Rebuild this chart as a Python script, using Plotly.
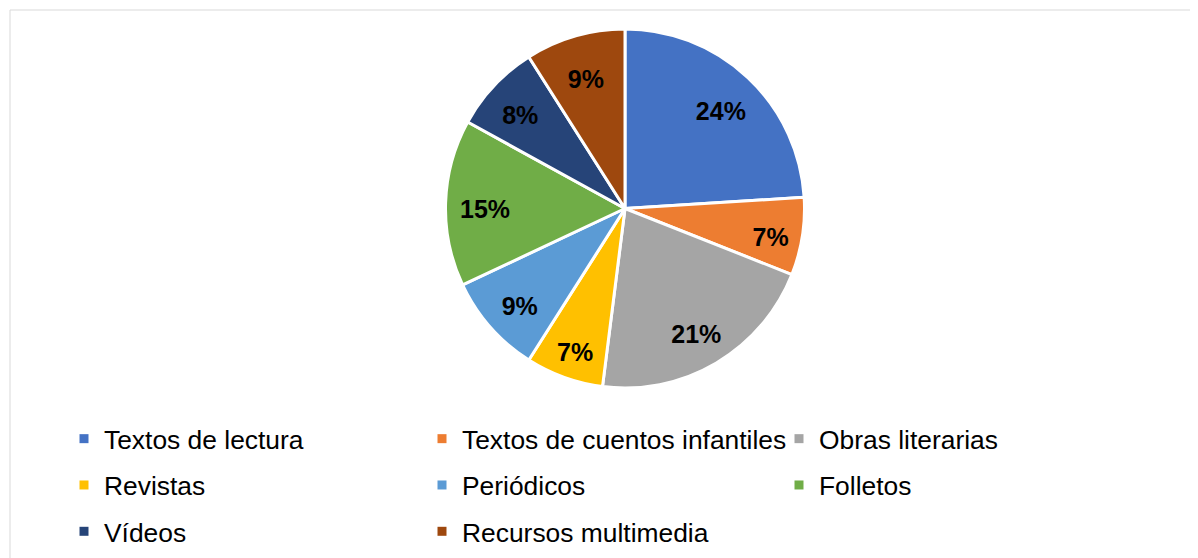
import plotly.graph_objects as go

labels = ['Textos de lectura', 'Textos de cuentos infantiles', 'Obras literarias',
          'Revistas', 'Periódicos', 'Folletos', 'Vídeos', 'Recursos multimedia']
values = [24, 7, 21, 7, 9, 15, 8, 9]
colors = ['#4472C4', '#ED7D31', '#A5A5A5', '#FFC000',
          '#5B9BD5', '#70AD47', '#264478', '#9E480E']

# page body has an 8px margin, so the figure is drawn 8px smaller and offset
OFF = 8
FW, FH = 1198 - OFF, 558 - OFF
FONT = 'Arial, Liberation Sans, sans-serif'


def px_x(v):
    return (v - OFF) / FW


def px_y(v):
    return 1 - (v - OFF) / FH


fig = go.Figure()

# pie, centred at (625, 208) px
cx, cy, r = 625, 208.5, 179.5
dom = dict(x=[px_x(cx - r), px_x(cx + r)], y=[px_y(cy + r), px_y(cy - r)])
# label ring sits a few px lower so the text lands where Excel puts it
dom_txt = dict(x=dom['x'], y=[px_y(cy + 5 + r), px_y(cy + 5 - r)])

fig.add_trace(go.Pie(
    labels=labels, values=values, sort=False, direction='clockwise', rotation=0,
    marker=dict(colors=colors, line=dict(color='white', width=3)),
    textinfo='none', domain=dom, showlegend=False, hoverinfo='label+percent',
))
# transparent ring on top only to carry the percent labels out near the rim
fig.add_trace(go.Pie(
    labels=labels, values=values, sort=False, direction='clockwise', rotation=0,
    hole=0.56,
    marker=dict(colors=['rgba(0,0,0,0)'] * len(values), line=dict(width=0)),
    textinfo='percent', texttemplate='%{percent:.0%}',
    textposition='inside', insidetextorientation='horizontal',
    textfont=dict(family=FONT, size=25, color='black', weight='bold'),
    domain=dom_txt, showlegend=False, hoverinfo='skip',
))

# legend: three columns like the Excel layout
legend_ids = ['legend', 'legend2', 'legend3']
for i, (lab, col) in enumerate(zip(labels, colors)):
    fig.add_trace(go.Scatter(
        x=[None], y=[None], mode='markers', name=lab,
        marker=dict(symbol='square', size=9, color=col, line=dict(width=0)),
        legend=legend_ids[i % 3], legendgroup=lab, showlegend=True,
    ))

col_text_x = [104, 462, 819]
leg_top = 415
common = dict(orientation='v', xanchor='left', yanchor='top', tracegroupgap=9,
              font=dict(family=FONT, size=26.4, color='black'), bgcolor='rgba(0,0,0,0)')
layout_legends = {}
for lid, tx in zip(legend_ids, col_text_x):
    layout_legends[lid] = dict(x=px_x(tx - 40), y=px_y(leg_top), **common)

fig.update_layout(
    width=FW, height=FH,
    margin=dict(l=0, r=0, t=0, b=0),
    paper_bgcolor='white', plot_bgcolor='white',
    xaxis=dict(visible=False), yaxis=dict(visible=False),
    shapes=[dict(type='rect', xref='paper', yref='paper',
                 x0=px_x(10), x1=1.01, y0=-0.01, y1=px_y(10),
                 line=dict(color='#D9D9D9', width=1), layer='below')],
    **layout_legends,
)

fig.write_html("out.html")
